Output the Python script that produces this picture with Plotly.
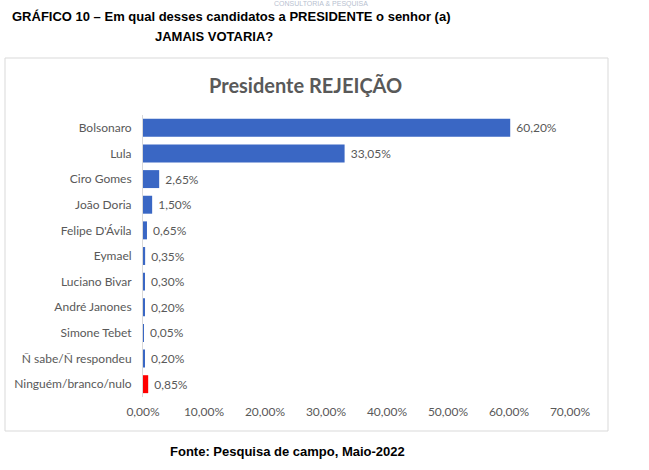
import plotly.graph_objects as go

categories = ["Bolsonaro", "Lula", "Ciro Gomes", "João Doria", "Felipe D'Ávila", "Eymael",
              "Luciano Bivar", "André Janones", "Simone Tebet", "Ñ sabe/Ñ respondeu",
              "Ninguém/branco/nulo"]
values = [60.20, 33.05, 2.65, 1.50, 0.65, 0.35, 0.30, 0.20, 0.05, 0.20, 0.85]
colors = ["#3a67c4"] * 10 + ["#ff0000"]
tick_vals = [0, 10, 20, 30, 40, 50, 60, 70]
tick_text = ["0,00%", "10,00%", "20,00%", "30,00%", "40,00%", "50,00%", "60,00%", "70,00%"]

W, H = 649, 470
L, R, T, B = 143, 570, 115, 397

def px(x):
    return (x - L) / (R - L)

def py(y):
    return (B - y) / (B - T)

fig = go.Figure(go.Bar(
    x=values, y=categories, orientation="h",
    marker=dict(color=colors, line=dict(width=0)),
    texttemplate=" %{x:.2f}%", textposition="outside",
    textfont=dict(family="Lato, Open Sans, sans-serif", size=12, color="#595959"),
    cliponaxis=False,
))

fig.update_layout(
    width=W, height=H,
    margin=dict(l=L, r=W - R, t=T, b=H - B, pad=0),
    paper_bgcolor="white", plot_bgcolor="white",
    separators=",.",
    bargap=0.3,
    showlegend=False,
    font=dict(family="Lato, Open Sans, sans-serif", color="#595959", size=12),
    xaxis=dict(range=[0, 70], tickvals=tick_vals, ticktext=tick_text,
               showgrid=False, zeroline=False, showline=False, ticks="",
               tickfont=dict(size=12, color="#595959"), ticklabelstandoff=6,
               automargin=False),
    yaxis=dict(autorange="reversed", showgrid=False, zeroline=False,
               showline=True, linecolor="#d9d9d9", linewidth=1, ticks="",
               tickfont=dict(size=12, color="#595959"), ticklabelstandoff=8,
               automargin=False),
    shapes=[dict(type="rect", xref="paper", yref="paper",
                 x0=px(5), x1=px(608), y0=py(431), y1=py(58),
                 line=dict(color="#d9d9d9", width=1), layer="below")],
    annotations=[
        dict(text="CONSULTORIA & PESQUISA", xref="paper", yref="paper",
             x=px(321), y=py(4), showarrow=False, xanchor="center", yanchor="middle",
             font=dict(family="Liberation Sans, Arial", size=7, color="#b8bfd0")),
        dict(text="<b>GRÁFICO 10 – Em qual desses candidatos a PRESIDENTE o senhor (a)</b>",
             xref="paper", yref="paper", x=px(231), y=py(16), showarrow=False,
             xanchor="center", yanchor="middle",
             font=dict(family="Liberation Sans, Arial", size=13, color="black")),
        dict(text="<b>JAMAIS VOTARIA?</b>",
             xref="paper", yref="paper", x=px(214), y=py(37), showarrow=False,
             xanchor="center", yanchor="middle",
             font=dict(family="Liberation Sans, Arial", size=13, color="black")),
        dict(text="<b>Presidente REJEIÇÃO</b>",
             xref="paper", yref="paper", x=px(305), y=py(85), showarrow=False,
             xanchor="center", yanchor="middle",
             font=dict(family="Lato, Open Sans, sans-serif", size=20, color="#595959")),
        dict(text="<b>Fonte: Pesquisa de campo, Maio-2022</b>",
             xref="paper", yref="paper", x=px(287), y=py(452), showarrow=False,
             xanchor="center", yanchor="middle",
             font=dict(family="Liberation Sans, Arial", size=13, color="black")),
    ],
)

fig.write_html("out.html", config={"displayModeBar": False},
               post_script="document.body.style.margin='0';")
